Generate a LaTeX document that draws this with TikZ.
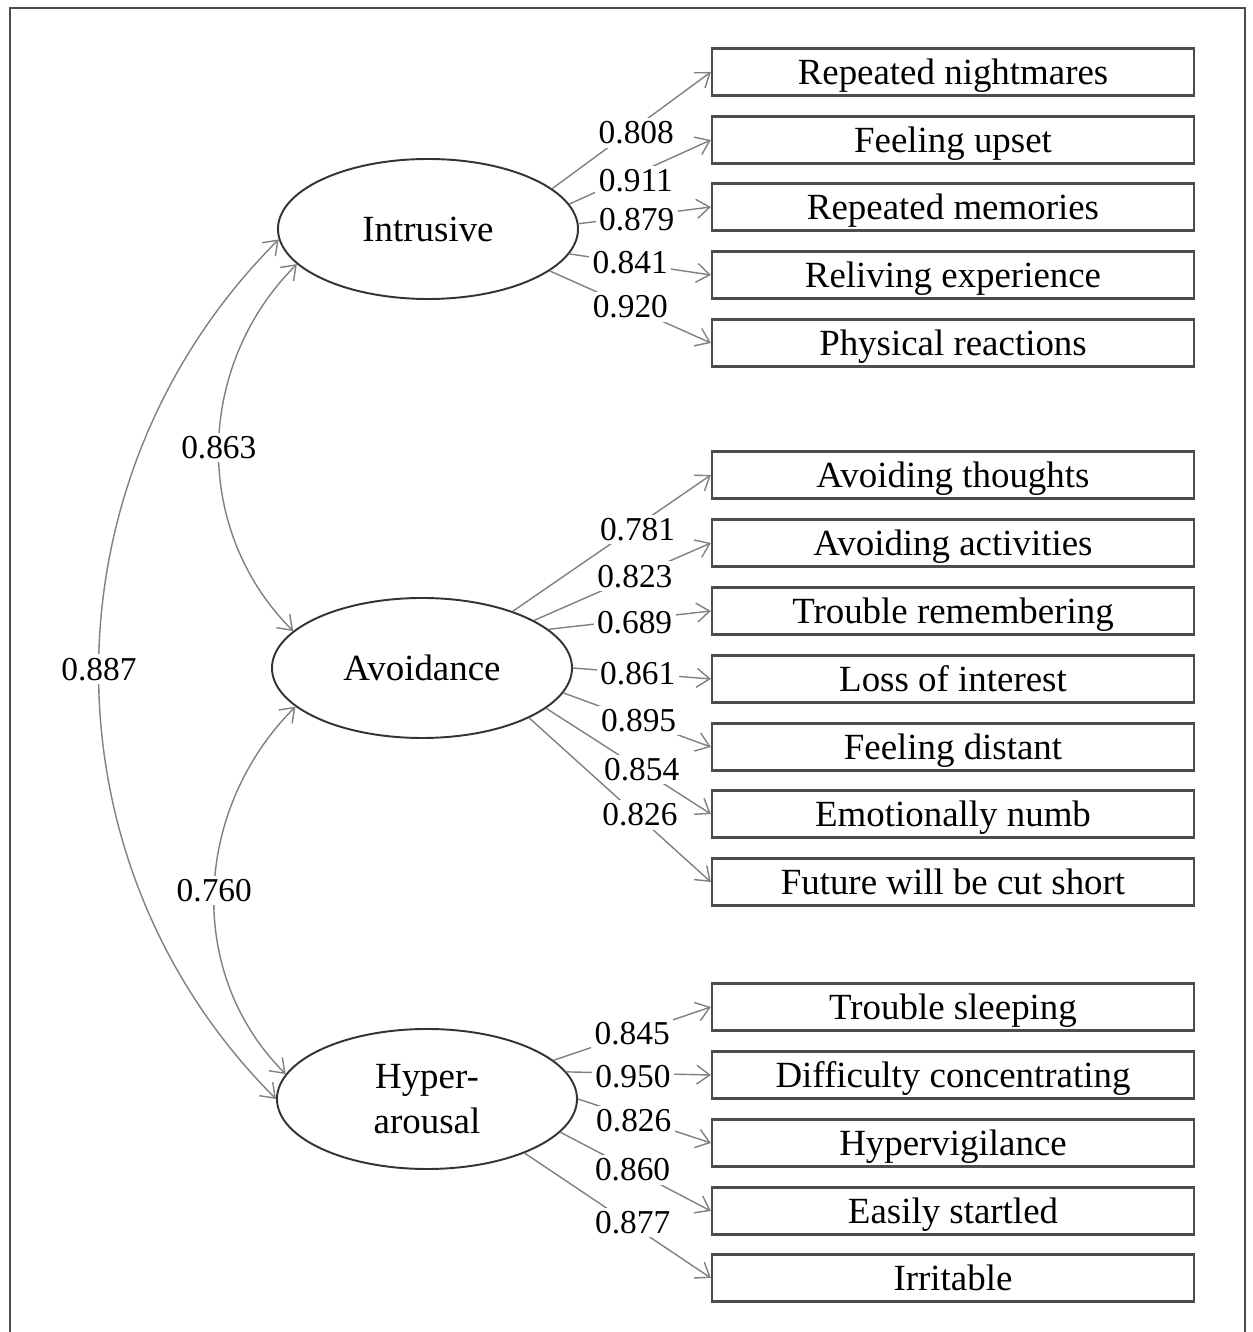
\documentclass[tikz,border=0pt]{standalone}
\usepackage{fontspec}
\setmainfont{Liberation Serif}
\usetikzlibrary{shapes.geometric,arrows.meta}

\begin{document}
\begin{tikzpicture}[
  x=1cm, y=1cm,
  every node/.style={inner sep=1pt, font=\fontsize{19}{22}\selectfont},
  lat/.style={ellipse, draw=black!80, line width=1.1pt, minimum width=6cm,
              minimum height=2.8cm, inner sep=0pt, align=center,
              font=\fontsize{21}{25.5}\selectfont},
  itm/.style={rectangle, draw=black!70, line width=1.3pt,
              minimum width=9.64cm, minimum height=0.94cm,
              text height=13.9pt, text depth=0pt,
              font=\fontsize{21}{24}\selectfont},
  ld/.style={-{Straight Barb[length=2.6mm,width=3.8mm]}, draw=black!50, line width=0.8pt},
  cor/.style={{Straight Barb[length=2.6mm,width=3.8mm]}-{Straight Barb[length=2.6mm,width=3.8mm]},
              draw=black!50, line width=0.8pt},
  lbl/.style={fill=white, inner sep=2pt},
]
  \useasboundingbox (0,0) rectangle (25.06,26.64);
  \draw[black!70, line width=1.4pt] (0.20,-0.50) rectangle (24.90,26.48);
  % factors
  \node[lat] (f1) at (8.560,22.060) {Intrusive};
  \node[lat] (f2) at (8.440,13.280) {Avoidance};
  \node[lat] (f3) at (8.540,4.660) {Hyper-\\arousal};
  % items
  \node[itm] (i1) at (19.060,25.200) {Repeated nightmares};
  \node[itm] (i2) at (19.060,23.840) {Feeling upset};
  \node[itm] (i3) at (19.060,22.500) {Repeated memories};
  \node[itm] (i4) at (19.060,21.140) {Reliving experience};
  \node[itm] (i5) at (19.060,19.780) {Physical reactions};
  \node[itm] (a1) at (19.060,17.140) {Avoiding thoughts};
  \node[itm] (a2) at (19.060,15.780) {Avoiding activities};
  \node[itm] (a3) at (19.060,14.420) {Trouble remembering};
  \node[itm] (a4) at (19.060,13.060) {Loss of interest};
  \node[itm] (a5) at (19.060,11.700) {Feeling distant};
  \node[itm] (a6) at (19.060,10.360) {Emotionally numb};
  \node[itm] (a7) at (19.060,9.000) {Future will be cut short};
  \node[itm] (h1) at (19.060,6.500) {Trouble sleeping};
  \node[itm] (h2) at (19.060,5.140) {Difficulty concentrating};
  \node[itm] (h3) at (19.060,3.780) {Hypervigilance};
  \node[itm] (h4) at (19.060,2.420) {Easily startled};
  \node[itm] (h5) at (19.060,1.080) {Irritable};
  % loadings
  \draw[ld] (f1.18) -- node[lbl, pos=0.53, yshift=-0.12cm] {0.808} (i1.west);
  \draw[ld] (f1.10) -- node[lbl, pos=0.47, yshift=-0.14cm] {0.911} (i2.west);
  \draw[ld] (f1.2) -- node[lbl, pos=0.44, yshift=-0.06cm] {0.879} (i3.west);
  \draw[ld] (f1.-10) -- node[lbl, pos=0.43] {0.841} (i4.west);
  \draw[ld] (f1.-19) -- node[lbl, pos=0.50] {0.920} (i5.west);
  \draw[ld] (f2.32) -- node[lbl, pos=0.63, yshift=-0.08cm] {0.781} (a1.west);
  \draw[ld] (f2.23) -- node[lbl, pos=0.57] {0.823} (a2.west);
  \draw[ld] (f2.17) -- node[lbl, pos=0.53, yshift=-0.06cm] {0.689} (a3.west);
  \draw[ld] (f2.0) -- node[lbl, pos=0.47] {0.861} (a4.west);
  \draw[ld] (f2.-10) -- node[lbl, pos=0.51] {0.895} (a5.west);
  \draw[ld] (f2.-18) -- node[lbl, pos=0.58] {0.854} (a6.west);
  \draw[ld] (f2.-25) -- node[lbl, pos=0.61, yshift=0.06cm] {0.826} (a7.west);
  \draw[ld] (f3.17) -- node[lbl, pos=0.50] {0.845} (h1.west);
  \draw[ld] (f3.11) -- node[lbl, pos=0.46, yshift=-0.06cm] {0.950} (h2.west);
  \draw[ld] (f3.0) -- node[lbl, pos=0.42, yshift=-0.06cm] {0.826} (h3.west);
  \draw[ld] (f3.-14) -- node[lbl, pos=0.48] {0.860} (h4.west);
  \draw[ld] (f3.-29) -- node[lbl, pos=0.58, yshift=0.06cm] {0.877} (h5.west);
  % correlations
  \draw[cor] (f1.195) to[out=225, in=135] node[lbl] {0.863} (f2.164);
  \draw[cor] (f1.184) to[out=225, in=135] node[lbl] {0.887} (f3.180);
  \draw[cor] (f2.197) to[out=225, in=135] node[lbl] {0.760} (f3.170);
\end{tikzpicture}
\end{document}
